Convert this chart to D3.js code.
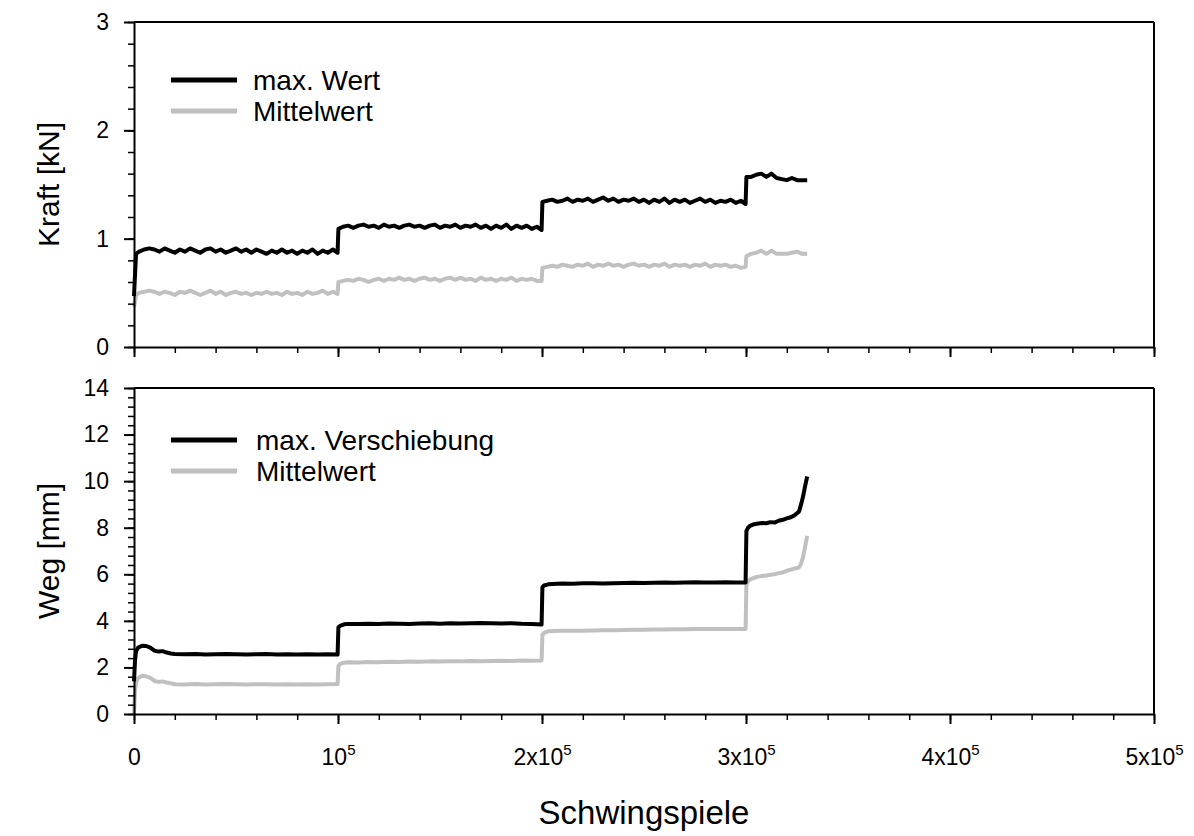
<!DOCTYPE html>
<html>
<head>
<meta charset="utf-8">
<script src="https://cdn.jsdelivr.net/npm/d3@7"></script>
<style>
body { margin: 0; background: #fff; }
text { font-family: "Liberation Sans", Arial, sans-serif; fill: #000; }
</style>
</head>
<body>
<div id="chart"></div>
<script>
// Schwingspiele (in 1000)
var cyclesTop = [0, 1, 2.5, 5, 7.5, 10, 12.5, 15, 17.5, 20, 22.5, 25, 27.5, 30, 32.5, 35, 37.5, 40, 42.5, 45, 47.5, 50, 52.5, 55, 57.5, 60, 62.5, 65, 67.5, 70, 72.5, 75, 77.5, 80, 82.5, 85, 87.5, 90, 92.5, 95, 97.5, 99.8,
    100.2, 102.5, 105, 107.5, 110, 112.5, 115, 117.5, 120, 122.5, 125, 127.5, 130, 132.5, 135, 137.5, 140, 142.5, 145, 147.5, 150, 152.5, 155, 157.5, 160, 162.5, 165, 167.5, 170, 172.5, 175, 177.5, 180, 182.5, 185, 187.5, 190, 192.5, 195, 197.5, 199.8,
    200.2, 202.5, 205, 207.5, 210, 212.5, 215, 217.5, 220, 222.5, 225, 227.5, 230, 232.5, 235, 237.5, 240, 242.5, 245, 247.5, 250, 252.5, 255, 257.5, 260, 262.5, 265, 267.5, 270, 272.5, 275, 277.5, 280, 282.5, 285, 287.5, 290, 292.5, 295, 297.5, 299.8,
    300.2, 302.5, 305, 307.5, 310, 312.5, 315, 317.5, 320, 322.5, 325, 327.5, 330];

// Kraft [kN] - max. Wert
var kraftMax = [0.47, 0.86, 0.88, 0.90, 0.91, 0.90, 0.88, 0.91, 0.89, 0.87,
    0.90, 0.88, 0.91, 0.89, 0.87, 0.90, 0.91, 0.88, 0.90, 0.87,
    0.89, 0.91, 0.88, 0.90, 0.87, 0.90, 0.88, 0.86, 0.89, 0.87,
    0.90, 0.87, 0.89, 0.86, 0.89, 0.87, 0.90, 0.86, 0.89, 0.87,
    0.90, 0.87,
    1.09, 1.11, 1.12, 1.10, 1.12, 1.13, 1.11, 1.12, 1.10, 1.13,
    1.11, 1.12, 1.10, 1.12, 1.13, 1.11, 1.12, 1.10, 1.12, 1.13,
    1.10, 1.12, 1.11, 1.13, 1.10, 1.12, 1.11, 1.13, 1.10, 1.12,
    1.09, 1.12, 1.10, 1.13, 1.09, 1.12, 1.10, 1.12, 1.09, 1.11,
    1.08,
    1.34, 1.35, 1.36, 1.34, 1.35, 1.37, 1.34, 1.36, 1.35, 1.37,
    1.34, 1.36, 1.38, 1.35, 1.37, 1.34, 1.36, 1.35, 1.37, 1.34,
    1.36, 1.33, 1.36, 1.34, 1.37, 1.33, 1.36, 1.34, 1.36, 1.33,
    1.35, 1.37, 1.34, 1.36, 1.33, 1.35, 1.34, 1.36, 1.33, 1.35,
    1.32,
    1.57, 1.57, 1.59, 1.60, 1.57, 1.60, 1.56, 1.55, 1.54, 1.56, 1.54, 1.54, 1.54];

// Kraft [kN] - Mittelwert
var kraftMean = [0.37, 0.48, 0.50, 0.51, 0.52, 0.51, 0.49, 0.51, 0.50, 0.48,
    0.51, 0.50, 0.52, 0.50, 0.48, 0.50, 0.52, 0.49, 0.51, 0.48,
    0.50, 0.51, 0.49, 0.50, 0.48, 0.50, 0.49, 0.51, 0.49, 0.50,
    0.48, 0.51, 0.49, 0.50, 0.48, 0.51, 0.49, 0.50, 0.52, 0.49,
    0.51, 0.49,
    0.60, 0.61, 0.62, 0.61, 0.63, 0.62, 0.60, 0.62, 0.63, 0.61,
    0.63, 0.62, 0.64, 0.62, 0.63, 0.61, 0.63, 0.64, 0.62, 0.63,
    0.61, 0.63, 0.64, 0.62, 0.64, 0.62, 0.63, 0.61, 0.64, 0.62,
    0.63, 0.61, 0.63, 0.62, 0.64, 0.61, 0.63, 0.62, 0.63, 0.61,
    0.61,
    0.73, 0.74, 0.75, 0.74, 0.76, 0.75, 0.74, 0.76, 0.75, 0.77,
    0.74, 0.76, 0.75, 0.77, 0.75, 0.76, 0.74, 0.76, 0.77, 0.75,
    0.76, 0.74, 0.76, 0.75, 0.77, 0.74, 0.76, 0.75, 0.76, 0.74,
    0.76, 0.75, 0.77, 0.74, 0.76, 0.75, 0.76, 0.74, 0.75, 0.73,
    0.74,
    0.84, 0.86, 0.87, 0.89, 0.86, 0.89, 0.86, 0.86, 0.86, 0.87, 0.88, 0.86, 0.86];

var cyclesBottom = [0, 0.5, 1, 2, 4, 6, 8, 10, 12, 14, 16, 18, 20, 25, 30, 35, 40, 45, 50, 55, 60, 65, 70, 75, 80, 85, 90, 95, 99.8,
    100.2, 101, 103, 105, 110, 115, 120, 125, 130, 135, 140, 145, 150, 155, 160, 165, 170, 175, 180, 185, 190, 195, 199.8,
    200.2, 201, 203, 205, 210, 215, 220, 225, 230, 235, 240, 245, 250, 255, 260, 265, 270, 275, 280, 285, 290, 295, 299.8,
    300.2, 301, 302, 304, 306, 308, 310, 312, 314, 316, 318, 320, 322, 324, 325, 326, 327, 328, 329, 330];

// Weg [mm] - max. Verschiebung
var wegMax = [1.4, 2.3, 2.7, 2.85, 2.93, 2.92, 2.85, 2.72, 2.68, 2.70, 2.64, 2.60, 2.58,
    2.57, 2.58, 2.56, 2.57, 2.58, 2.57, 2.56, 2.57, 2.58, 2.56, 2.57, 2.56, 2.57, 2.56, 2.57, 2.55,
    3.72, 3.78, 3.85, 3.87, 3.86, 3.88, 3.87, 3.89, 3.88, 3.87, 3.89, 3.90, 3.88, 3.90, 3.89, 3.90, 3.91, 3.90, 3.89, 3.90, 3.88, 3.87, 3.84,
    5.45, 5.52, 5.57, 5.58, 5.60, 5.59, 5.61, 5.62, 5.60, 5.62, 5.63, 5.64, 5.63, 5.64, 5.65, 5.64, 5.65, 5.66, 5.65, 5.65, 5.66, 5.65, 5.65,
    7.85, 8.0, 8.08, 8.15, 8.18, 8.20, 8.19, 8.24, 8.22, 8.30, 8.34, 8.40, 8.45, 8.55, 8.62, 8.70, 9.0, 9.35, 9.8, 10.2];

// Weg [mm] - Mittelwert
var wegMean = [0.0, 1.0, 1.35, 1.55, 1.64, 1.62, 1.55, 1.42, 1.38, 1.40, 1.35, 1.32, 1.28,
    1.27, 1.29, 1.27, 1.28, 1.29, 1.28, 1.27, 1.28, 1.28, 1.27, 1.28, 1.27, 1.28, 1.27, 1.28, 1.29,
    2.05, 2.15, 2.20, 2.22, 2.21, 2.23, 2.22, 2.24, 2.23, 2.25, 2.24, 2.26, 2.25, 2.27, 2.26, 2.28, 2.27, 2.28, 2.29, 2.28, 2.30, 2.29, 2.30,
    3.40, 3.48, 3.55, 3.56, 3.57, 3.58, 3.58, 3.59, 3.60, 3.60, 3.61, 3.62, 3.62, 3.63, 3.63, 3.64, 3.64, 3.65, 3.65, 3.65, 3.65, 3.65, 3.65,
    5.55, 5.70, 5.78, 5.85, 5.90, 5.93, 5.95, 5.98, 6.0, 6.05, 6.08, 6.15, 6.2, 6.25, 6.27, 6.3, 6.45, 6.75, 7.2, 7.65];

var xTicks = [0, 100, 200, 300, 400, 500];
var xTickLabels = [["0", ""], ["10", "5"], ["2x10", "5"], ["3x10", "5"], ["4x10", "5"], ["5x10", "5"]];
var kraftTicks = [0, 1, 2, 3];
var wegTicks = [0, 2, 4, 6, 8, 10, 12, 14];

var colors = ["#000000", "#c0c0c0"];

var width = 1194, height = 836;
var left = 134, plotW = 1020;
var panels = [
    { top: 22, h: 325, max: 3, ticks: kraftTicks, minorStep: 0.2, title: "Kraft [kN]",
      xs: cyclesTop, series: [kraftMax, kraftMean], legend: ["max. Wert", "Mittelwert"], legendX: 119, legendY: 58 },
    { top: 388, h: 326, max: 14, ticks: wegTicks, minorStep: 0.4, title: "Weg [mm]",
      xs: cyclesBottom, series: [wegMax, wegMean], legend: ["max. Verschiebung", "Mittelwert"], legendX: 122, legendY: 52 }
];

var svg = d3.select("#chart")
    .append("svg")
    .attr("width", width)
    .attr("height", height);

var x = d3.scaleLinear().domain([0, 500]).range([0, plotW]);

panels.forEach(function(p, pi) {
    var g = svg.append("g")
        .attr("transform", "translate(" + left + "," + p.top + ")");

    var y = d3.scaleLinear().domain([0, p.max]).range([p.h, 0]);

    // data lines
    var line = d3.line()
        .x(function(d) { return x(d[0]); })
        .y(function(d) { return y(d[1]); });

    [1, 0].forEach(function(si) {
        g.append("path")
            .datum(d3.zip(p.xs, p.series[si]))
            .attr("fill", "none")
            .attr("stroke", colors[si])
            .attr("stroke-width", 4)
            .attr("stroke-linejoin", "round")
            .attr("d", line);
    });

    // frame
    g.append("line").attr("x1", 0).attr("x2", plotW).attr("y1", 0).attr("y2", 0)
        .attr("stroke", "#000").attr("stroke-width", 2);
    g.append("line").attr("x1", plotW).attr("x2", plotW).attr("y1", 0).attr("y2", p.h)
        .attr("stroke", "#000").attr("stroke-width", 2);

    // minor ticks
    var nMinor = Math.round(p.max / p.minorStep);
    var minorY = d3.range(nMinor + 1).map(function(i) { return i * p.minorStep; });
    g.append("g")
        .call(d3.axisLeft(y).tickValues(minorY).tickSize(6).tickFormat(""))
        .call(function(a) { a.select(".domain").remove(); a.selectAll("line").attr("stroke-width", 1.5); });
    g.append("g")
        .attr("transform", "translate(0," + p.h + ")")
        .call(d3.axisBottom(x).tickValues(d3.range(0, 501, 20)).tickSize(6).tickFormat(""))
        .call(function(a) { a.select(".domain").remove(); a.selectAll("line").attr("stroke-width", 1.5); });

    // major y axis
    var ya = g.append("g")
        .call(d3.axisLeft(y).tickValues(p.ticks).tickSize(10).tickSizeOuter(0).tickPadding(15).tickFormat(d3.format("d")));
    ya.select(".domain").attr("stroke-width", 2);
    ya.selectAll("line").attr("stroke-width", 2);
    ya.selectAll("text").attr("font-size", 23).style("font-family", "'Liberation Sans', Arial, sans-serif");

    // major x axis
    var xa = g.append("g")
        .attr("transform", "translate(0," + p.h + ")")
        .call(d3.axisBottom(x).tickValues(xTicks).tickSize(10).tickSizeOuter(0).tickFormat(""));
    xa.select(".domain").attr("stroke-width", 2);
    xa.selectAll("line").attr("stroke-width", 2);
    xa.selectAll("text").remove();

    if (pi === 1) {
        xa.selectAll(".tick").each(function(d, i) {
            var t = d3.select(this).append("text")
                .attr("y", 51)
                .attr("text-anchor", "middle")
                .attr("font-size", 23)
                .attr("fill", "#000");
            t.append("tspan").text(xTickLabels[i][0]);
            if (xTickLabels[i][1]) {
                t.append("tspan").attr("dy", -10).attr("font-size", 15).text(xTickLabels[i][1]);
            }
        });
    }

    // y title
    svg.append("text")
        .attr("transform", "translate(48," + (p.top + p.h / 2) + ") rotate(-90)")
        .attr("text-anchor", "middle")
        .attr("dy", "0.35em")
        .attr("font-size", 30)
        .text(p.title);

    // legend
    p.legend.forEach(function(name, i) {
        var ly = p.legendY + i * 31;
        g.append("line")
            .attr("x1", 37).attr("x2", 103)
            .attr("y1", ly).attr("y2", ly)
            .attr("stroke", colors[i])
            .attr("stroke-width", 5);
        g.append("text")
            .attr("x", p.legendX).attr("y", ly)
            .attr("dy", "0.35em")
            .attr("font-size", 28)
            .text(name);
    });
});

svg.append("text")
    .attr("x", left + plotW / 2)
    .attr("y", 824)
    .attr("text-anchor", "middle")
    .attr("font-size", 33)
    .text("Schwingspiele");
</script>
</body>
</html>
